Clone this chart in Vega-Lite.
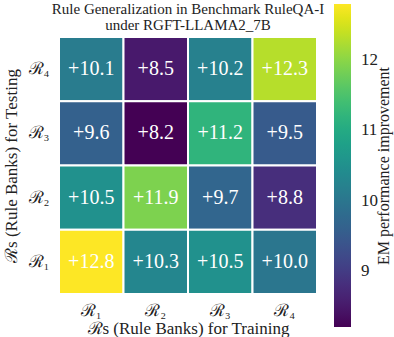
{
  "$schema": "https://vega.github.io/schema/vega-lite/v6.json",
  "autosize": "none",
  "width": 258,
  "height": 257,
  "padding": {"left": 59, "top": 37, "right": 77, "bottom": 43},
  "background": "white",
  "config": {
    "font": "Liberation Serif",
    "view": {"stroke": null}
  },
  "title": {
    "text": ["Rule Generalization in Benchmark RuleQA-I", "under RGFT-LLAMA2_7B"],
    "font": "Liberation Serif",
    "fontSize": 15,
    "fontWeight": "normal",
    "color": "#222",
    "anchor": "middle",
    "offset": 5,
    "dy": 34,
    "lineHeight": 16
  },
  "data": {
    "values": [
      {"train": "ℛ₁", "test": "ℛ₄", "value": 10.1},
      {"train": "ℛ₂", "test": "ℛ₄", "value": 8.5},
      {"train": "ℛ₃", "test": "ℛ₄", "value": 10.2},
      {"train": "ℛ₄", "test": "ℛ₄", "value": 12.3},
      {"train": "ℛ₁", "test": "ℛ₃", "value": 9.6},
      {"train": "ℛ₂", "test": "ℛ₃", "value": 8.2},
      {"train": "ℛ₃", "test": "ℛ₃", "value": 11.2},
      {"train": "ℛ₄", "test": "ℛ₃", "value": 9.5},
      {"train": "ℛ₁", "test": "ℛ₂", "value": 10.5},
      {"train": "ℛ₂", "test": "ℛ₂", "value": 11.9},
      {"train": "ℛ₃", "test": "ℛ₂", "value": 9.7},
      {"train": "ℛ₄", "test": "ℛ₂", "value": 8.8},
      {"train": "ℛ₁", "test": "ℛ₁", "value": 12.8},
      {"train": "ℛ₂", "test": "ℛ₁", "value": 10.3},
      {"train": "ℛ₃", "test": "ℛ₁", "value": 10.5},
      {"train": "ℛ₄", "test": "ℛ₁", "value": 10.0}
    ]
  },
  "encoding": {
    "x": {
      "field": "train",
      "type": "nominal",
      "sort": ["ℛ₁", "ℛ₂", "ℛ₃", "ℛ₄"],
      "scale": {"paddingInner": 0, "paddingOuter": 0},
      "axis": {
        "title": "ℛs (Rule Banks) for Training",
        "titleFont": "Liberation Serif",
        "titleFontSize": 17,
        "titleFontWeight": "normal",
        "titleColor": "#222",
        "titlePadding": 2,
        "labelFont": "Liberation Serif",
        "labelFontSize": 17,
        "labelColor": "#222",
        "labelAngle": 0,
        "labelPadding": 8,
        "domain": false,
        "ticks": false
      }
    },
    "y": {
      "field": "test",
      "type": "nominal",
      "sort": ["ℛ₄", "ℛ₃", "ℛ₂", "ℛ₁"],
      "scale": {"paddingInner": 0, "paddingOuter": 0},
      "axis": {
        "title": "ℛs (Rule Banks) for Testing",
        "titleFont": "Liberation Serif",
        "titleFontSize": 17,
        "titleFontWeight": "normal",
        "titleColor": "#222",
        "titlePadding": 8,
        "labelFont": "Liberation Serif",
        "labelFontSize": 17,
        "labelColor": "#222",
        "labelPadding": 10,
        "domain": false,
        "ticks": false
      }
    }
  },
  "layer": [
    {
      "mark": {"type": "rect", "stroke": "white", "strokeWidth": 2},
      "encoding": {
        "color": {
          "field": "value",
          "type": "quantitative",
          "scale": {"scheme": "viridis", "domain": [8.2, 12.8], "zero": false, "nice": false},
          "legend": {
            "orient": "none",
            "legendX": 275,
            "legendY": -33,
            "direction": "vertical",
            "gradientLength": 323,
            "gradientThickness": 17,
            "gradientStrokeWidth": 0,
            "values": [9, 10, 11, 12],
            "labelFont": "Liberation Serif",
            "labelFontSize": 17,
            "labelColor": "#222",
            "labelOffset": 10,
            "title": "EM  performance  improvement",
            "titleFont": "Liberation Serif",
            "titleFontSize": 16,
            "titleFontWeight": "normal",
            "titleColor": "#222",
            "titleLimit": 400,
            "titleOrient": "right",
            "titleAnchor": "middle",
            "titlePadding": 6,
            "encode": {"title": {"update": {"angle": {"value": 270}, "baseline": {"value": "middle"}, "x": {"value": 53}}}}
          }
        }
      }
    },
    {
      "mark": {"type": "text", "color": "white", "font": "Liberation Serif", "fontSize": 20, "baseline": "middle", "align": "center"},
      "encoding": {
        "text": {"field": "value", "type": "quantitative", "format": "+.1f"}
      }
    }
  ]
}
